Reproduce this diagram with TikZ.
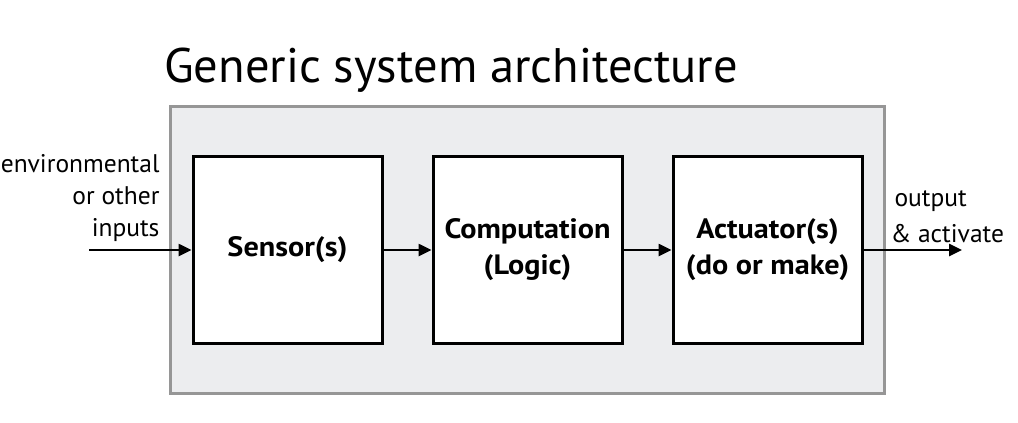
\documentclass[tikz,border=0pt]{standalone}
\usepackage{fontspec}
\setmainfont{PT Sans}
\newfontfamily\wideboldfont[FakeStretch=1.08]{PT Sans Bold}
\usetikzlibrary{positioning,arrows.meta}
\definecolor{panelgray}{RGB}{236,237,239}
\definecolor{edgegray}{RGB}{150,150,150}

\begin{document}
\begin{tikzpicture}[x=1pt,y=-1pt,
    block/.style={draw, fill=white, line width=3pt, minimum width=189pt, minimum height=187pt,
      inner sep=0pt, align=center, font=\fontsize{28}{36}\wideboldfont},
    flow/.style={-{Triangle[length=13pt,width=12pt]}, line width=2.5pt},
    side/.style={font=\fontsize{25.5}{32}\selectfont}]
  \useasboundingbox (0,0) rectangle (1018,423);
  \node[anchor=base, font=\fontsize{48.5}{56}\selectfont] (title) at (451,82) {Generic system architecture};
  \node[draw=edgegray, fill=panelgray, line width=3pt, minimum width=714pt, minimum height=287pt] (panel) at (527,249.5) {};
  \node[block] (sensor) at (287.5,250) {Sensor(s)};
  \node[block, right=48pt of sensor] (logic) {Computation\\(Logic)};
  \node[block, right=48pt of logic] (actuator) {Actuator(s)\\(do or make)};
  \coordinate (in) at (89,250);
  \coordinate (out) at (962,250);
  \draw[flow] (in) -- (sensor);
  \draw[flow] (sensor) -- (logic);
  \draw[flow] (logic) -- (actuator);
  \draw[flow] (actuator) -- (out);
  \node[side, align=right, anchor=base east] (inputs) at (163,236) {environmental\\or other\\inputs};
  \node[side, align=left, anchor=base west, font=\fontsize{25.5}{36}\selectfont] (outputs) at (891,242) {output\\\kern-4pt\& activate};
\end{tikzpicture}
\end{document}
